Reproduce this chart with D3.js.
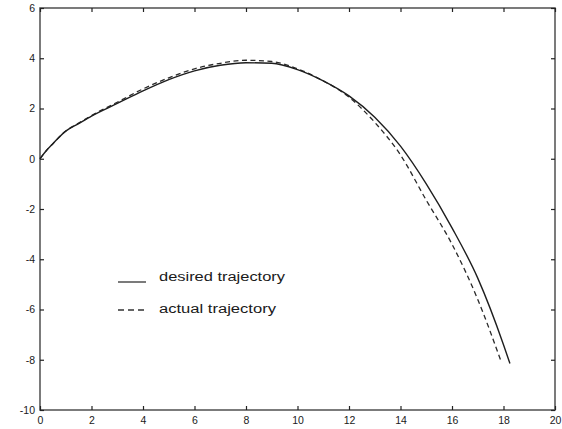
<!DOCTYPE html>
<html>
<head>
<meta charset="utf-8">
<script src="https://cdn.jsdelivr.net/npm/d3@7"></script>
<style>
  html, body { margin: 0; padding: 0; background: #fff; }
  svg { display: block; }
  text { font-family: "Liberation Sans", Arial, Helvetica, sans-serif; fill: #1a1a1a; }
</style>
</head>
<body>
<svg id="chart" width="562" height="429"></svg>
<script>
// Trajectory samples: x position and height
const desiredX = [0, 0.25, 0.5, 1, 1.5, 2, 3, 4, 5, 6, 7, 8, 9, 10, 11, 12, 13, 14, 15, 16, 17, 18, 18.25];
const desiredY = [0, 0.33, 0.6, 1.1, 1.4, 1.7, 2.2, 2.7, 3.15, 3.5, 3.72, 3.82, 3.8, 3.55, 3.1, 2.5, 1.65, 0.5, -1.0, -2.75, -4.75, -7.4, -8.15];

const actualX = [0, 0.25, 0.5, 1, 1.5, 2, 3, 4, 5, 6, 7, 8, 9, 10, 11, 12, 13, 14, 15, 16, 17, 17.9];
const actualY = [0, 0.33, 0.6, 1.1, 1.42, 1.72, 2.25, 2.78, 3.22, 3.58, 3.8, 3.92, 3.87, 3.58, 3.1, 2.45, 1.45, 0.15, -1.65, -3.4, -5.6, -8.05];

const xTicks = [0, 2, 4, 6, 8, 10, 12, 14, 16, 18, 20];
const yTicks = [-10, -8, -6, -4, -2, 0, 2, 4, 6];

const legendLabels = ["desired  trajectory", "actual  trajectory"];

const svg = d3.select("#chart");
const plotLeft = 40, plotRight = 555, plotTop = 8, plotBottom = 410;

const x = d3.scaleLinear().domain([0, 20]).range([plotLeft, plotRight]);
const y = d3.scaleLinear().domain([-10, 6]).range([plotBottom, plotTop]);

const axisColor = "#5a5a5a";

// Box frame
svg.append("rect")
  .attr("x", plotLeft).attr("y", plotTop)
  .attr("width", plotRight - plotLeft).attr("height", plotBottom - plotTop)
  .attr("fill", "none").attr("stroke", axisColor).attr("stroke-width", 1.6);

// Bottom axis with labels, ticks pointing inward
const xAxis = svg.append("g").attr("transform", `translate(0,${plotBottom})`)
  .call(d3.axisBottom(x).tickValues(xTicks).tickSizeInner(-4).tickSizeOuter(0).tickPadding(7).tickFormat(d3.format("d")));
// Top ticks
const xTop = svg.append("g").attr("transform", `translate(0,${plotTop})`)
  .call(d3.axisTop(x).tickValues(xTicks).tickSizeInner(-4).tickSizeOuter(0).tickFormat(""));
// Left axis with labels (plain hyphen for negatives)
const yAxis = svg.append("g").attr("transform", `translate(${plotLeft},0)`)
  .call(d3.axisLeft(y).tickValues(yTicks).tickSizeInner(-4).tickSizeOuter(0).tickPadding(5)
    .tickFormat(d => String(d)));
// Right ticks
const yRight = svg.append("g").attr("transform", `translate(${plotRight},0)`)
  .call(d3.axisRight(y).tickValues(yTicks).tickSizeInner(-4).tickSizeOuter(0).tickFormat(""));

[xAxis, xTop, yAxis, yRight].forEach(g => {
  g.select(".domain").remove();
  g.selectAll(".tick line").attr("stroke", "#222").attr("stroke-width", 1.2);
  g.selectAll(".tick text").attr("font-size", 10.5).attr("fill", "#111");
});

const line = d3.line().x(d => x(d[0])).y(d => y(d[1])).curve(d3.curveMonotoneX);

const desired = desiredX.map((v, i) => [v, desiredY[i]]);
const actual = actualX.map((v, i) => [v, actualY[i]]);

svg.append("path").datum(actual)
  .attr("d", line).attr("fill", "none")
  .attr("stroke", "#2a2a2a").attr("stroke-width", 1.3)
  .attr("stroke-dasharray", "5,3.5");

svg.append("path").datum(desired)
  .attr("d", line).attr("fill", "none")
  .attr("stroke", "#1e1e1e").attr("stroke-width", 1.4);

// Legend
const legend = svg.append("g");
const rows = [
  { label: legendLabels[0], dash: null, lineY: 282, textY: 281, w: 126 },
  { label: legendLabels[1], dash: "6,4", lineY: 310, textY: 313, w: 117 }
];
rows.forEach(r => {
  legend.append("line")
    .attr("x1", 118).attr("x2", 146).attr("y1", r.lineY).attr("y2", r.lineY)
    .attr("stroke", "#333").attr("stroke-width", 1.3)
    .attr("stroke-dasharray", r.dash);
  legend.append("text")
    .attr("x", 159).attr("y", r.textY)
    .attr("font-size", 12.5)
    .attr("textLength", r.w).attr("lengthAdjust", "spacingAndGlyphs")
    .text(r.label);
});
</script>
</body>
</html>
